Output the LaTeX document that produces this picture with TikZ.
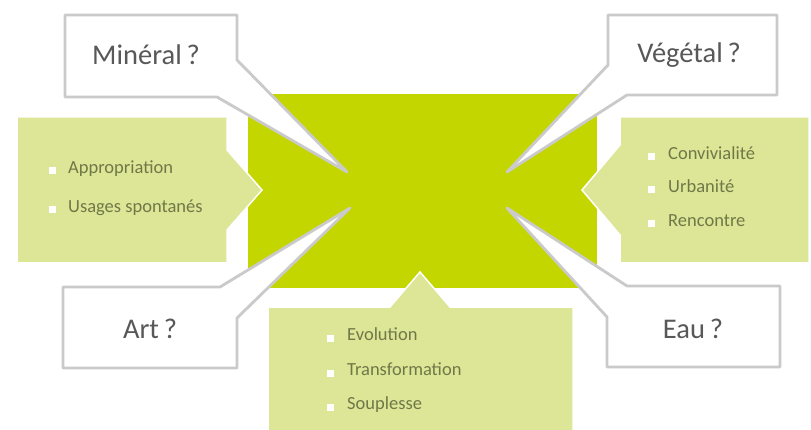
\documentclass[tikz,border=0pt]{standalone}
\usepackage{fontspec}
\setmainfont{Carlito}
\definecolor{leaf}{RGB}{196,214,0}
\definecolor{pale}{RGB}{221,229,150}
\definecolor{olive}{RGB}{112,120,72}
\definecolor{rim}{RGB}{202,202,202}
\definecolor{ink}{RGB}{88,88,88}
\begin{document}
\begin{tikzpicture}[x=1pt,y=-1pt,
  callout/.style={fill=white,draw=rim,line width=2.8pt,line join=round},
  panel/.style={fill=pale,draw=white,line width=1.5pt,line join=miter},
  question/.style={font=\fontsize{28.5}{30}\selectfont,text=ink,inner sep=0pt},
  item/.style={font=\fontsize{18.5}{20}\selectfont,text=olive,anchor=mid west,inner sep=0pt},
  tick/.style={fill=white,minimum size=7pt,inner sep=0pt}]
\useasboundingbox (0,0) rectangle (811,430);
\fill[white] (0,0) rectangle (811,430);

% central block
\node[fill=leaf,minimum width=349pt,minimum height=194pt,inner sep=0pt] (core) at (422.5,191) {};

% side panels pointing into the block
\draw[panel] (17,117) -- (227,117) -- (227,150) -- (262,190) -- (227,230)
  -- (227,263) -- (17,263) -- cycle;
\draw[panel] (620,117) -- (809,117) -- (809,263) -- (620,263) -- (620,235)
  -- (582,190) -- (620,145) -- cycle;
\draw[panel] (268,307) -- (390,307) -- (420,272) -- (450,307) -- (573,307)
  -- (573,432) -- (268,432) -- cycle;

% left list
\node[tick] (b1) at (52,171) {};
\node[item] (t1) at (68,171) {Appropriation};
\node[tick] (b2) at (52,210) {};
\node[item] (t2) at (68,210) {Usages spontanés};

% right list
\node[tick] (b3) at (651,157) {};
\node[item] (t3) at (668,157) {Convivialité};
\node[tick] (b4) at (651,190) {};
\node[item] (t4) at (668,190) {Urbanité};
\node[tick] (b5) at (651,224) {};
\node[item] (t5) at (668,224) {Rencontre};

% bottom list
\node[tick] (b6) at (330,338) {};
\node[item] (t6) at (347,338) {Evolution};
\node[tick] (b7) at (330,373) {};
\node[item] (t7) at (347,373) {Transformation};
\node[tick] (b8) at (330,407) {};
\node[item] (t8) at (347,407) {Souplesse};

% question callouts
\draw[callout] (65,15) -- (237,15) -- (237,60) -- (347,172) -- (217,97)
  -- (65,97) -- cycle;
\node[question] (q1) at (146,55) {Minéral\,?};
\draw[callout] (608,15) -- (777,15) -- (777,95) -- (627,95) -- (507,172)
  -- (608,65) -- cycle;
\node[question] (q2) at (689,55) {Végétal\,?};
\draw[callout] (63,287) -- (220,287) -- (350,208) -- (237,318) -- (237,368)
  -- (63,368) -- cycle;
\node[question] (q3) at (150,329) {Art\,?};
\draw[callout] (627,286) -- (780,286) -- (780,367) -- (607,367) -- (607,317)
  -- (507,208) -- cycle;
\node[question] (q4) at (693,329) {Eau\,?};
\end{tikzpicture}
\end{document}
